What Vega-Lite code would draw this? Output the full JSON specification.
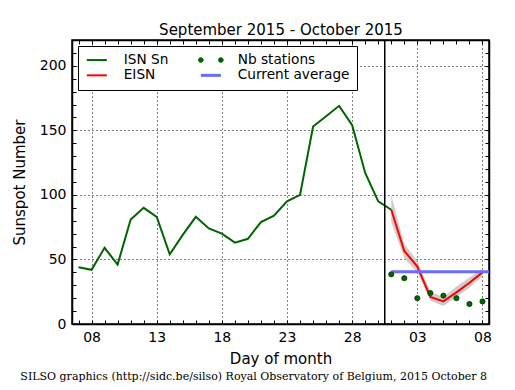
{
  "$schema": "https://vega.github.io/schema/vega-lite/v6.json",
  "width": 417,
  "height": 284,
  "autosize": {"type": "none"},
  "padding": {"left": 72, "top": 40, "right": 26, "bottom": 66},
  "background": "white",
  "title": {
    "text": "SILSO graphics (http://sidc.be/silso) Royal Observatory of Belgium, 2015 October 8",
    "orient": "bottom",
    "anchor": "middle",
    "frame": "bounds",
    "font": "DejaVu Serif",
    "fontSize": 11,
    "fontWeight": "normal",
    "color": "black",
    "offset": 5
  },
  "config": {
    "view": {"stroke": "black", "strokeWidth": 1.5},
    "font": "DejaVu Sans",
    "axis": {
      "domainColor": "black",
      "domainWidth": 1.5,
      "tickColor": "black",
      "tickWidth": 1,
      "labelColor": "black",
      "titleColor": "black",
      "labelFont": "DejaVu Sans",
      "titleFont": "DejaVu Sans",
      "titleFontWeight": "normal",
      "labelFontSize": 14,
      "titleFontSize": 15
    }
  },
  "datasets": {
    "isn": [
      {"date": "2015-09-07", "value": 44},
      {"date": "2015-09-08", "value": 42},
      {"date": "2015-09-09", "value": 59},
      {"date": "2015-09-10", "value": 46},
      {"date": "2015-09-11", "value": 81},
      {"date": "2015-09-12", "value": 90},
      {"date": "2015-09-13", "value": 83},
      {"date": "2015-09-14", "value": 54},
      {"date": "2015-09-15", "value": 69},
      {"date": "2015-09-16", "value": 83},
      {"date": "2015-09-17", "value": 74},
      {"date": "2015-09-18", "value": 70},
      {"date": "2015-09-19", "value": 63},
      {"date": "2015-09-20", "value": 66},
      {"date": "2015-09-21", "value": 79},
      {"date": "2015-09-22", "value": 84},
      {"date": "2015-09-23", "value": 95},
      {"date": "2015-09-24", "value": 100},
      {"date": "2015-09-25", "value": 153},
      {"date": "2015-09-26", "value": 161},
      {"date": "2015-09-27", "value": 169},
      {"date": "2015-09-28", "value": 154},
      {"date": "2015-09-29", "value": 117},
      {"date": "2015-09-30", "value": 95},
      {"date": "2015-10-01", "value": 88.5}
    ],
    "eisn": [
      {"date": "2015-10-01", "eisn": 88.5, "low": 79, "high": 100, "stations": 38.5},
      {"date": "2015-10-02", "eisn": 56.6, "low": 51, "high": 62, "stations": 35.5},
      {"date": "2015-10-03", "eisn": 44.5, "low": 40, "high": 49, "stations": 20},
      {"date": "2015-10-04", "eisn": 21, "low": 18, "high": 25, "stations": 24},
      {"date": "2015-10-05", "eisn": 17.5, "low": 14, "high": 21, "stations": 22},
      {"date": "2015-10-06", "eisn": 24.5, "low": 21, "high": 29, "stations": 20},
      {"date": "2015-10-07", "eisn": 32, "low": 28, "high": 36, "stations": 15.5},
      {"date": "2015-10-08", "eisn": 40, "low": 37, "high": 43, "stations": 17.5}
    ],
    "avg": [
      {"date": "2015-10-01", "average": 40.5},
      {"date": "2015-10-08T12:00:00Z", "average": 40.5}
    ],
    "now": [
      {"date": "2015-09-30T12:00:00Z"}
    ]
  },
  "layer": [
    {
      "data": {"name": "eisn"},
      "mark": {"type": "area", "color": "#c8c8c8", "opacity": 0.9},
      "encoding": {
        "x": {"field": "date", "type": "temporal", "axis": null,
          "scale": {"type": "utc", "nice": false, "domain": [{"year": 2015, "month": 9, "date": 6, "hours": 12, "utc": true}, {"year": 2015, "month": 10, "date": 8, "hours": 12, "utc": true}]}},
        "y": {"field": "low", "type": "quantitative", "axis": null, "scale": {"domain": [0, 220], "nice": false}},
        "y2": {"field": "high"}
      }
    },
    {
      "data": {"name": "isn"},
      "mark": {"type": "line", "strokeWidth": 2},
      "encoding": {
        "x": {"field": "date", "type": "temporal",
          "scale": {"type": "utc", "nice": false, "domain": [{"year": 2015, "month": 9, "date": 6, "hours": 12, "utc": true}, {"year": 2015, "month": 10, "date": 8, "hours": 12, "utc": true}]},
          "axis": {
            "orient": "bottom",
            "title": "Day of month",
            "tickCount": {"interval": "day", "step": 1},
            "labelExpr": "utcdate(datum.value) % 5 === 3 ? utcFormat(datum.value, '%d') : ''",
            "labelOverlap": false,
            "labelFlush": false,
            "tickSize": -4,
            "labelPadding": 10,
            "titlePadding": 7,
            "grid": true,
            "gridColor": "black",
            "gridDash": [1, 3],
            "gridWidth": 1,
            "gridOpacity": {"condition": {"test": "utcdate(datum.value) % 5 === 3", "value": 1}, "value": 0}
          }
        },
        "y": {"field": "value", "type": "quantitative",
          "scale": {"domain": [0, 220], "nice": false},
          "axis": {
            "orient": "left",
            "title": "Sunspot Number",
            "values": [0, 10, 20, 30, 40, 50, 60, 70, 80, 90, 100, 110, 120, 130, 140, 150, 160, 170, 180, 190, 200, 210],
            "labelExpr": "datum.value % 50 === 0 ? datum.label : ''",
            "labelOverlap": false,
            "labelFlush": false,
            "tickSize": -4,
            "labelPadding": 10,
            "titlePadding": 12,
            "grid": true,
            "gridColor": "black",
            "gridDash": [1, 3],
            "gridWidth": 1,
            "gridOpacity": {"condition": {"test": "datum.value % 50 === 0", "value": 1}, "value": 0}
          }
        },
        "color": {
          "datum": "ISN Sn",
          "type": "nominal",
          "scale": {"domain": ["ISN Sn", "EISN", "Nb stations", "Current average"], "range": ["#006400", "#ff0000", "#006400", "#6b6bff"]},
          "legend": {
            "title": null,
            "orient": "top-left",
            "offset": 6,
            "columns": 2,
            "columnPadding": 25,
            "rowPadding": 0.5,
            "padding": 7,
            "labelFont": "DejaVu Sans",
            "labelFontSize": 13.7,
            "labelColor": "black",
            "labelOffset": 25,
            "symbolSize": 100,
            "strokeColor": "black",
            "fillColor": "white",
            "encode": {
              "symbols": {
                "update": {
                  "shape": {"signal": "datum.value === 'Nb stations' ? 'M-1.5,0A0.5,0.5,0,1,0,-0.5,0A0.5,0.5,0,1,0,-1.5,0ZM2.5,0A0.5,0.5,0,1,0,3.5,0A0.5,0.5,0,1,0,2.5,0Z' : 'M-1,0L3,0'"},
                  "stroke": {"signal": "datum.value === 'EISN' ? '#ff0000' : datum.value === 'Current average' ? '#6b6bff' : datum.value === 'Nb stations' ? '#002800' : '#006400'"},
                  "fill": {"signal": "datum.value === 'Nb stations' ? '#006400' : 'transparent'"},
                  "strokeWidth": {"signal": "datum.value === 'Current average' ? 3 : datum.value === 'Nb stations' ? 0.6 : 2"},
                  "opacity": {"value": 1}
                }
              }
            }
          }
        }
      }
    },
    {
      "data": {"name": "now"},
      "mark": {"type": "rule", "color": "black", "strokeWidth": 1.5},
      "encoding": {
        "x": {"field": "date", "type": "temporal", "axis": null,
          "scale": {"type": "utc", "nice": false, "domain": [{"year": 2015, "month": 9, "date": 6, "hours": 12, "utc": true}, {"year": 2015, "month": 10, "date": 8, "hours": 12, "utc": true}]}}
      }
    },
    {
      "data": {"name": "eisn"},
      "mark": {"type": "line", "strokeWidth": 2},
      "encoding": {
        "x": {"field": "date", "type": "temporal", "axis": null,
          "scale": {"type": "utc", "nice": false, "domain": [{"year": 2015, "month": 9, "date": 6, "hours": 12, "utc": true}, {"year": 2015, "month": 10, "date": 8, "hours": 12, "utc": true}]}},
        "y": {"field": "eisn", "type": "quantitative", "axis": null, "scale": {"domain": [0, 220], "nice": false}},
        "color": {"datum": "EISN", "type": "nominal"}
      }
    },
    {
      "data": {"name": "avg"},
      "mark": {"type": "line", "strokeWidth": 3},
      "encoding": {
        "x": {"field": "date", "type": "temporal",
          "scale": {"type": "utc", "nice": false, "domain": [{"year": 2015, "month": 9, "date": 6, "hours": 12, "utc": true}, {"year": 2015, "month": 10, "date": 8, "hours": 12, "utc": true}]},
          "axis": {
            "orient": "top",
            "title": "September 2015 - October 2015",
            "titleFontSize": 15,
            "titleFontWeight": "normal",
            "labels": false,
            "tickCount": {"interval": "day", "step": 1},
            "tickSize": -4,
            "grid": false,
            "titlePadding": 2
          }
        },
        "y": {"field": "average", "type": "quantitative",
          "scale": {"domain": [0, 220], "nice": false},
          "axis": {
            "orient": "right",
            "title": null,
            "labels": false,
            "values": [0, 10, 20, 30, 40, 50, 60, 70, 80, 90, 100, 110, 120, 130, 140, 150, 160, 170, 180, 190, 200, 210],
            "tickSize": -4,
            "grid": false
          }
        },
        "color": {"datum": "Current average", "type": "nominal"}
      }
    },
    {
      "data": {"name": "eisn"},
      "mark": {"type": "point", "filled": true, "size": 28, "stroke": "#002800", "strokeWidth": 0.6, "opacity": 1},
      "encoding": {
        "x": {"field": "date", "type": "temporal", "axis": null,
          "scale": {"type": "utc", "nice": false, "domain": [{"year": 2015, "month": 9, "date": 6, "hours": 12, "utc": true}, {"year": 2015, "month": 10, "date": 8, "hours": 12, "utc": true}]}},
        "y": {"field": "stations", "type": "quantitative", "axis": null, "scale": {"domain": [0, 220], "nice": false}},
        "color": {"datum": "Nb stations", "type": "nominal"}
      }
    }
  ],
  "resolve": {"axis": {"x": "independent", "y": "independent"}}
}
